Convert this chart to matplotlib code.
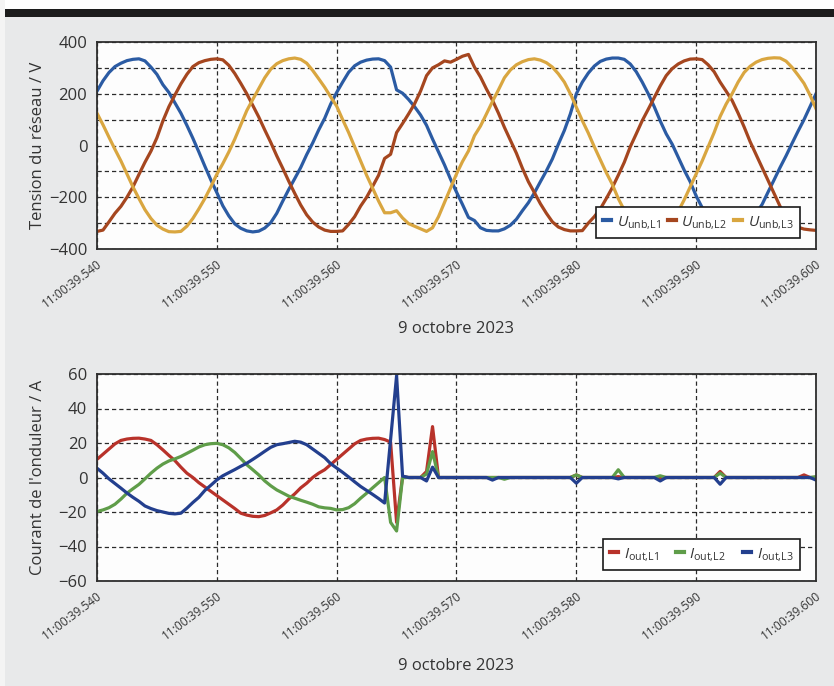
import numpy as np
import matplotlib
matplotlib.use("Agg")
import matplotlib.pyplot as plt
from matplotlib.patches import Rectangle
from matplotlib.ticker import FixedLocator
from matplotlib.transforms import ScaledTranslation

plt.rcParams["font.family"] = ["Open Sans", "DejaVu Sans"]
plt.rcParams["mathtext.fontset"] = "custom"
plt.rcParams["mathtext.rm"] = "Open Sans"
plt.rcParams["mathtext.it"] = "Open Sans:italic"
plt.rcParams["mathtext.bf"] = "Open Sans:bold"

# ---- data -------------------------------------------------------------
# sample instants in ms after 11:00:39 (0.5 ms resolution)
t_ms = np.arange(540.0, 600.25, 0.5)

tick_ms = [540, 550, 560, 570, 580, 590, 600]
tick_labels = ["11:00:39.540", "11:00:39.550", "11:00:39.560", "11:00:39.570",
               "11:00:39.580", "11:00:39.590", "11:00:39.600"]
date_label = "9 octobre 2023"

# grid voltages / V
u_l1 = [210, 250, 282, 305, 318, 328, 333, 335, 327, 303,
        275, 235, 205, 165, 125, 78, 28, -25, -80, -133,
        -182, -233, -272, -303, -320, -330, -334, -331, -319, -298,
        -262, -215, -170, -128, -85, -35, 10, 60, 105, 160,
        205, 245, 283, 308, 322, 330, 334, 335, 328, 303,
        215, 202, 178, 150, 118, 78, 25, -25, -75, -130,
        -180, -228, -278, -290, -318, -328, -330, -330, -322, -308,
        -285, -252, -221, -183, -140, -98, -52, 5, 58, 122,
        200, 245, 280, 307, 325, 334, 338, 338, 333, 315,
        285, 245, 200, 150, 95, 45, 5, -45, -95, -140,
        -195, -240, -280, -310, -325, -332, -334, -330, -318, -295,
        -262, -228, -180, -133, -85, -40, 8, 55, 100, 150,
        200]
u_l2 = [-332, -327, -295, -262, -235, -200, -160, -112, -65, -22,
        30, 95, 150, 195, 238, 275, 305, 320, 328, 333,
        335, 331, 310, 278, 240, 200, 155, 110, 60, 12,
        -40, -88, -138, -185, -230, -268, -296, -315, -327, -332,
        -332, -330, -305, -275, -234, -200, -158, -115, -50, -34,
        50, 85, 122, 161, 210, 270, 300, 312, 327, 322,
        333, 345, 352, 303, 265, 218, 175, 125, 70, 20,
        -30, -88, -140, -182, -225, -262, -295, -315, -325, -330,
        -330, -329, -300, -275, -245, -205, -163, -115, -65, -5,
        45, 96, 140, 185, 230, 270, 297, 315, 327, 334,
        335, 332, 312, 285, 245, 210, 174, 125, 72, 15,
        -35, -85, -135, -185, -235, -275, -300, -316, -323, -326,
        -328]
u_l3 = [125, 80, 32, -15, -60, -110, -160, -205, -248, -282,
        -308, -323, -333, -334, -332, -312, -282, -245, -205, -160,
        -111, -70, -25, 25, 80, 135, 178, 220, 262, 295,
        316, 328, 335, 338, 333, 318, 290, 258, 225, 188,
        152, 100, 50, -5, -60, -115, -165, -215, -260, -260,
        -252, -280, -302, -312, -322, -332, -318, -275, -220, -165,
        -110, -62, -21, 38, 75, 122, 170, 215, 262, 292,
        312, 324, 332, 335, 330, 320, 303, 277, 245, 200,
        148, 96, 48, -5, -55, -105, -150, -205, -250, -285,
        -310, -326, -333, -335, -330, -310, -285, -255, -210, -160,
        -110, -60, -5, 50, 112, 160, 200, 245, 282, 306,
        322, 332, 337, 339, 338, 326, 302, 272, 240, 195,
        142]

# inverter output currents / A
i_l1 = [10.5, 13.5, 16.5, 19.5, 21.5, 22.3, 22.7, 22.8, 22.3, 21.5,
        19, 16, 12.8, 9.8, 6, 2.5, 0, -3, -5.5, -8,
        -10.5, -13, -15.5, -18, -20.7, -21.8, -22.5, -22.7, -22, -20.5,
        -18.8, -16, -12.5, -9.5, -6, -3.3, 0, 2.5, 4.5, 7.5,
        10.5, 13.5, 16.5, 19.5, 21.5, 22.3, 22.7, 22.8, 22, 20.5,
        -26, 0.5, 0, 0, 0, 3.5, 29.5, 0, 0, 0,
        0, 0, 0, 0, 0, 0, 0, 0, 0, 0,
        0, 0, 0, 0, 0, 0, 0, 0, 0, 0,
        1.5, 0, 0, 0, 0, 0, 0, 0.5, 0, 0,
        0, 0, 0, 0, 0, 0, 0, 0, 0, 0,
        0, 0, 0, 0, 3.5, 0, 0, 0, 0, 0,
        0, 0, 0, 0, 0, 0, 0, 0, 1.5, 0,
        0]
i_l2 = [-19.7, -18.8, -17.5, -15.5, -12.5, -9.1, -6.5, -4, -0.8, 2.5,
        5.4, 7.8, 9.6, 10.8, 12.2, 14, 15.8, 17.7, 19, 19.6,
        19.8, 19, 17.2, 14.5, 11, 7.4, 4.5, 1.5, -2, -4.8,
        -7.2, -9, -10.8, -12, -13.2, -14.3, -15.5, -17, -17.6, -17.9,
        -18.8, -18.6, -17.5, -15.2, -12, -9.1, -6, -3, 0, -26,
        -31, 0, 0, 0, 0, 2, 15, 0, 0, 0,
        0, 0, 0, 0, 0, 0, 0, 0, -1, 0,
        0, 0, 0, 0, 0, 0, 0, 0, 0, 0,
        1.5, 0, 0, 0, 0, 0, 0, 4.5, 0, 0,
        0, 0, 0, 0, 1, 0, 0, 0, 0, 0,
        0, 0, 0, 0, 2.5, 0, 0, 0, 0, 0,
        0, 0, 0, 0, 0, 0, 0, 0, 0, 0,
        0.5]
i_l3 = [5.4, 2.5, -0.8, -3.5, -6.2, -9, -11.5, -13.8, -16.5, -18,
        -19.2, -20, -20.8, -21.1, -20.7, -17.8, -14.5, -11.5, -7.5, -4.5,
        -1.4, 1, 2.8, 4.6, 6.5, 8.3, 10.5, 12.8, 15.2, 17.5,
        19, 19.6, 20.3, 21, 20.5, 19, 16.5, 14, 11.5, 8,
        5.5, 3, 0.3, -2.5, -5.2, -7.5, -9.8, -12.2, -14.8, 22,
        59, 0.8, 0, 0, 0, -2, 6, 0, 0, 0,
        0, 0, 0, 0, 0, 0, -1.5, 0, 0, 0,
        0, 0, 0, 0, 0, 0, 0, 0, 0, 0,
        -3.3, 0, 0, 0, 0, 0, 0, -0.8, 0, 0,
        0, 0, 0, 0, -2, 0, 0, 0, 0, 0,
        0, 0, 0, 0, -3.9, 0, 0, 0, 0, 0,
        0, 0, 0, 0, 0, 0, 0, 0, 0, 0,
        -1.5]

u_labels = [r"$U_{\mathrm{unb{,}L1}}$", r"$U_{\mathrm{unb{,}L2}}$", r"$U_{\mathrm{unb{,}L3}}$"]
i_labels = [r"$I_{\mathrm{out{,}L1}}$", r"$I_{\mathrm{out{,}L2}}$", r"$I_{\mathrm{out{,}L3}}$"]
u_colors = ["#2b5ba3", "#a5461f", "#d9a640"]
i_colors = ["#b8322a", "#5f9d49", "#233f8e"]

# ---- figure -----------------------------------------------------------
W, H = 834, 686
fig = plt.figure(figsize=(W / 100, H / 100), dpi=100, facecolor="#e8e9ea")

# page header: white margin and dark rule
fig.patches.append(Rectangle((0, 1 - 9 / H), 1, 9 / H, transform=fig.transFigure,
                             facecolor="white", edgecolor="none", zorder=0))
fig.patches.append(Rectangle((0, 0), 5 / W, 1, transform=fig.transFigure,
                             facecolor="#f4f4f4", edgecolor="none", zorder=0))
fig.patches.append(Rectangle((5 / W, 1 - 17 / H), 1, 8 / H, transform=fig.transFigure,
                             facecolor="#1c1c1c", edgecolor="none", zorder=0))

ax_left, ax_w, ax_h = 97 / W, 719 / W, 207 / H
ax_u = fig.add_axes([ax_left, 1 - 249 / H, ax_w, ax_h])
ax_i = fig.add_axes([ax_left, 1 - 581 / H, ax_w, ax_h])

text_col = "#333333"
grid_kw = dict(color="#2a2a2a", linewidth=0.9, linestyle=(0, (3.4, 2.4)))
label_shift = ScaledTranslation(6 / 72, -3 / 72, fig.dpi_scale_trans)

def style_axes(ax, ylabel, ylim, yticks, yminor, xlabel_y):
    ax.set_facecolor("#fdfdfd")
    ax.set_xlim(tick_ms[0], tick_ms[-1])
    ax.set_ylim(*ylim)
    ax.set_yticks(yticks)
    ax.yaxis.set_minor_locator(FixedLocator(yminor))
    ax.set_xticks(tick_ms)
    ax.set_xticklabels(tick_labels, rotation=37, ha="right",
                       rotation_mode="anchor", fontsize=8.6, color=text_col)
    for lab in ax.get_xticklabels():
        lab.set_transform(lab.get_transform() + label_shift)
    ax.tick_params(axis="both", which="both", length=0)
    ax.tick_params(axis="y", labelsize=12, labelcolor=text_col, pad=7)
    ax.tick_params(axis="x", pad=6)
    ax.grid(True, which="major", **grid_kw)
    ax.grid(True, which="minor", axis="y", **grid_kw)
    ax.set_axisbelow(True)
    for s in ax.spines.values():
        s.set_color("#2e2e2e")
        s.set_linewidth(1.3)
    ax.set_ylabel(ylabel, fontsize=12, color=text_col)
    ax.yaxis.set_label_coords(-0.071, 0.5)
    ax.set_xlabel(date_label, fontsize=12, color=text_col)
    ax.xaxis.set_label_coords(0.5, xlabel_y)

for vals, col, lab in zip([u_l1, u_l2, u_l3], u_colors, u_labels):
    ax_u.plot(t_ms, vals, color=col, lw=2.3, label=lab, solid_joinstyle="round")
style_axes(ax_u, "Tension du réseau / V", (-400, 400),
           [-400, -200, 0, 200, 400], [-300, -100, 100, 300], -0.35)

for vals, col, lab in zip([i_l1, i_l2, i_l3], i_colors, i_labels):
    ax_i.plot(t_ms, vals, color=col, lw=2.3, label=lab, solid_joinstyle="round")
style_axes(ax_i, "Courant de l'onduleur / A", (-60, 60),
           [-60, -40, -20, 0, 20, 40, 60], [], -0.37)

leg_kw = dict(loc="lower right", bbox_to_anchor=(0.978, 0.053), borderaxespad=0,
              ncol=3, fontsize=11, frameon=True, fancybox=False, framealpha=1,
              handlelength=0.55, handletextpad=0.35,
              borderpad=0.45, labelcolor=text_col)
for ax, spacing in ((ax_u, 0.44), (ax_i, 1.1)):
    leg = ax.legend(columnspacing=spacing, **leg_kw)
    leg.get_frame().set_edgecolor("#1a1a1a")
    leg.get_frame().set_linewidth(1.2)
    for h in leg.get_lines():
        h.set_linewidth(3)

fig.savefig("out.png", dpi=100, facecolor=fig.get_facecolor())
